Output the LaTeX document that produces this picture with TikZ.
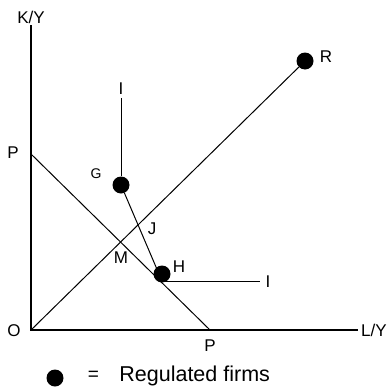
\documentclass[tikz,border=0pt]{standalone}
\usepackage{fontspec}
\setmainfont{Liberation Sans}
\usetikzlibrary{positioning}

\begin{document}
\begin{tikzpicture}[
    x=1pt, y=-1pt,
    dot/.style={circle, fill=black, inner sep=0pt, minimum size=17pt},
    axis/.style={line width=1.8pt},
    line/.style={line width=1pt},
    lbl/.style={inner sep=0pt, font=\fontsize{17}{17}\selectfont},
    small/.style={inner sep=0pt, font=\fontsize{14}{14}\selectfont}
]
\useasboundingbox (0,0) rectangle (386,391);

% axes
\coordinate (O) at (31,330);
\coordinate (ytop) at (31,25);
\coordinate (xend) at (358,330);
\draw[axis] (ytop) -- (O) -- (xend);
\node[lbl] (ky) at (31,17) {K/Y};
\node[lbl, anchor=west] (ly) at (361,330) {L/Y};
\node[lbl] (o) at (14,331) {O};

% price line
\coordinate (p1) at (31,154);
\coordinate (p2) at (210,330);
\draw[line] (p1) -- (p2);
\node[lbl] (pleft) at (13,153) {P};
\node[lbl] (pbot) at (210,346) {P};

% firms
\node[dot] (R) at (305,61) {};
\node[dot] (G) at (121,185) {};
\node[dot] (H) at (162,274) {};
\coordinate (h) at (162,281);
\coordinate (itop) at (121,98);
\coordinate (iend) at (260,281);

\draw[line] (O) -- (R);
\draw[line] (G) -- (h);
\draw[line] (G) -- (itop);
\draw[line] (h) -- (iend);

\node[lbl] (rl) at (326,57) {R};
\node[small] (gl) at (96,174) {G};
\node[lbl] (il1) at (121,89) {I};
\node[lbl] (il2) at (268,282) {I};
\node[lbl] (hl) at (179,267) {H};
\node[lbl] (jl) at (152,229) {J};
\node[lbl] (ml) at (121,258) {M};

% legend
\node[dot] (key) at (55,378) {};
\node[inner sep=0pt, font=\fontsize{19}{19}\selectfont, right=24pt of key, yshift=2pt] (eq) {=};
\node[inner sep=0pt, font=\fontsize{21.5}{21.5}\selectfont, right=20pt of eq, yshift=0pt] (keytext) {Regulated firms};
\end{tikzpicture}
\end{document}
